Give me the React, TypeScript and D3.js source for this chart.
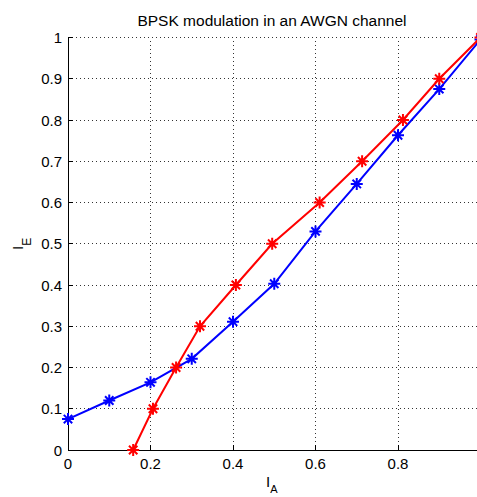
import React, { useEffect, useRef } from "react";
import * as d3 from "d3";

const title = "BPSK modulation in an AWGN channel";
const xTicks = [0, 0.2, 0.4, 0.6, 0.8];
const xTickLabels = ["0", "0.2", "0.4", "0.6", "0.8"];
const yTicks = [0, 0.1, 0.2, 0.3, 0.4, 0.5, 0.6, 0.7, 0.8, 0.9, 1];
const yTickLabels = ["0", "0.1", "0.2", "0.3", "0.4", "0.5", "0.6", "0.7", "0.8", "0.9", "1"];
const redX = [0.158, 0.206, 0.262, 0.32, 0.407, 0.495, 0.61, 0.713, 0.812, 0.9, 1];
const redY = [0, 0.1, 0.2, 0.3, 0.4, 0.5, 0.6, 0.7, 0.8, 0.9, 1];
const blueX = [0, 0.1, 0.2, 0.3, 0.4, 0.5, 0.6, 0.7, 0.8, 0.9, 1];
const blueY = [0.075, 0.12, 0.164, 0.221, 0.311, 0.403, 0.53, 0.645, 0.763, 0.875, 0.995];

export default function App() {
  const ref = useRef<SVGSVGElement>(null);
  useEffect(() => {
    const svg = d3.select(ref.current);
    svg.selectAll("*").remove();
    const x = d3.scaleLinear().domain([0, 1]).range([68, 480.5]);
    const y = d3.scaleLinear().domain([0, 1]).range([450, 37.5]);
    const font = "Arial, 'Liberation Sans', sans-serif";

    const g = svg.append("g");
    // grid
    xTicks.concat([1]).forEach((t) => {
      if (t === 0) return;
      g.append("line").attr("x1", x(t)).attr("x2", x(t)).attr("y1", y(0)).attr("y2", y(1))
        .attr("stroke", "#333").attr("stroke-width", 1).attr("stroke-dasharray", "1,3").attr("shape-rendering", "crispEdges");
    });
    yTicks.forEach((t) => {
      if (t === 0) return;
      g.append("line").attr("x1", x(0)).attr("x2", x(1)).attr("y1", y(t)).attr("y2", y(t))
        .attr("stroke", "#333").attr("stroke-width", 1).attr("stroke-dasharray", "1,3").attr("shape-rendering", "crispEdges");
    });

    // axes lines
    g.append("line").attr("x1", x(0)).attr("x2", x(1)).attr("y1", y(0)).attr("y2", y(0))
      .attr("stroke", "#000").attr("shape-rendering", "crispEdges");
    g.append("line").attr("x1", x(0)).attr("x2", x(0)).attr("y1", y(0)).attr("y2", y(1))
      .attr("stroke", "#000").attr("shape-rendering", "crispEdges");

    xTicks.forEach((t, i) => {
      g.append("line").attr("x1", x(t)).attr("x2", x(t)).attr("y1", y(0)).attr("y2", y(0) - 5)
        .attr("stroke", "#000").attr("shape-rendering", "crispEdges");
      g.append("text").attr("x", x(t)).attr("y", y(0) + 19).attr("text-anchor", "middle")
        .attr("font-family", font).attr("font-size", 15).attr("fill", "#000").text(xTickLabels[i]);
    });
    yTicks.forEach((t, i) => {
      g.append("line").attr("x1", x(0)).attr("x2", x(0) + 5).attr("y1", y(t)).attr("y2", y(t))
        .attr("stroke", "#000").attr("shape-rendering", "crispEdges");
      g.append("text").attr("x", x(0) - 6).attr("y", y(t) + 5.5).attr("text-anchor", "end")
        .attr("font-family", font).attr("font-size", 15).attr("fill", "#000").text(yTickLabels[i]);
    });

    // title
    g.append("text").attr("x", 272).attr("y", 26).attr("text-anchor", "middle")
      .attr("font-family", font).attr("font-size", 15.5).attr("fill", "#000").text(title);

    // x label
    const xl = g.append("text").attr("x", 266).attr("y", 487)
      .attr("font-family", font).attr("font-size", 15).attr("fill", "#000");
    xl.append("tspan").text("I");
    xl.append("tspan").attr("font-size", 11).attr("dy", 6).text("A");

    // y label
    const yl = g.append("text").attr("transform", `translate(23,250) rotate(-90)`)
      .attr("font-family", font).attr("font-size", 15).attr("fill", "#000");
    yl.append("tspan").text("I");
    yl.append("tspan").attr("font-size", 12).attr("dy", 8).text("E");

    const line = d3.line<[number, number]>().x((d) => x(d[0])).y((d) => y(d[1]));
    const drawSeries = (xs: number[], ys: number[], color: string) => {
      const pts: [number, number][] = xs.map((v, i) => [v, ys[i]]);
      g.append("path").attr("d", line(pts)!).attr("fill", "none").attr("stroke", color).attr("stroke-width", 2);
      const s = 6;
      const d2 = 4.2;
      pts.forEach((p) => {
        const cx = x(p[0]), cy = y(p[1]);
        g.append("path")
          .attr("d", `M${cx - s},${cy}L${cx + s},${cy}M${cx},${cy - s}L${cx},${cy + s}M${cx - d2},${cy - d2}L${cx + d2},${cy + d2}M${cx - d2},${cy + d2}L${cx + d2},${cy - d2}`)
          .attr("stroke", color).attr("stroke-width", 2).attr("fill", "none");
      });
    };
    drawSeries(blueX, blueY, "#0000ff");
    drawSeries(redX, redY, "#ff0000");
  }, []);
  return (
    <svg ref={ref} width={477} height={497} style={{ position: "absolute", left: 0, top: 0, background: "#fff" }} />
  );
}
